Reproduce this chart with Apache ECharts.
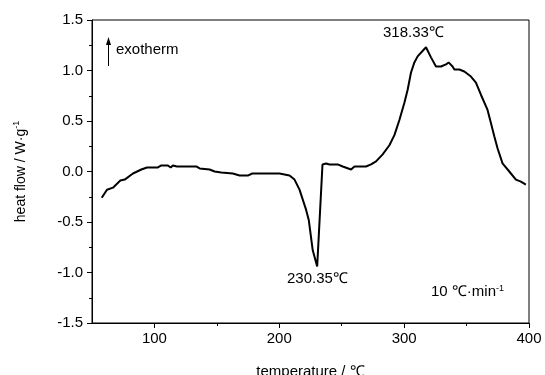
<!DOCTYPE html>
<html>
<head>
<meta charset="utf-8">
<script src="https://cdn.jsdelivr.net/npm/echarts@6/dist/echarts.min.js"></script>
<style>html,body{margin:0;padding:0;background:#fff}#c{width:545px;height:375px}</style>
</head>
<body>
<div id="c"></div>
<script>
const temperature = [57.8,62,66.8,72.7,76.2,82.8,89.5,94,102.8,105.5,110.8,113,114.8,118,133.5,136.2,144.2,148.2,153.5,162.8,168.2,174.8,178.3,179.4,181.5,200.2,208.2,212.2,216.2,221.5,223.6,226.8,230.35,234.6,237.5,240.2,246.8,250.8,257.5,260.2,269.5,273.5,277.5,282.8,288.2,292.2,296.2,300.2,302.8,305.5,308.2,310.8,317.5,321.5,325.5,329.5,333.5,335.6,338.8,340.2,344.2,348.2,353.5,357.5,361.5,366.8,369.5,372.2,374.8,378.8,384.2,389.5,393.5,397.5];
const heatFlow = [-0.26,-0.18,-0.16,-0.09,-0.08,-0.02,0.02,0.04,0.04,0.06,0.06,0.04,0.06,0.05,0.05,0.03,0.02,0.0,-0.01,-0.02,-0.04,-0.04,-0.02,-0.03,-0.02,-0.02,-0.04,-0.08,-0.18,-0.38,-0.48,-0.78,-0.94,0.07,0.08,0.07,0.07,0.05,0.02,0.05,0.05,0.07,0.10,0.17,0.26,0.36,0.51,0.68,0.81,0.98,1.08,1.14,1.23,1.13,1.04,1.04,1.06,1.08,1.04,1.01,1.01,0.99,0.94,0.88,0.76,0.61,0.48,0.35,0.23,0.08,0.0,-0.08,-0.10,-0.13];
const xLabels = [100,200,300,400];
const xMinorTicks = [150,250,350];
const font = "'Liberation Sans', Arial, sans-serif";

const chart = echarts.init(document.getElementById('c'), null, {renderer:'canvas'});
const data = temperature.map((t,i)=>[t,heatFlow[i]]);
chart.setOption({
  animation:false,
  backgroundColor:'#fff',
  textStyle:{fontFamily:font,color:'#000'},
  grid:{left:92,right:16,top:20,bottom:52,outerBoundsMode:'none',containLabel:false,show:true,borderColor:'#000',borderWidth:1,backgroundColor:'transparent'},
  xAxis:[{
    type:'value',min:50,max:400,
    name:'temperature / ℃',nameLocation:'middle',nameGap:41,
    nameTextStyle:{fontSize:15,color:'#000',fontFamily:font},
    axisLine:{show:true,onZero:false,lineStyle:{color:'#000',width:1}},
    axisTick:{show:true,length:5,inside:false,lineStyle:{color:'#000'},customValues:xLabels},
    axisLabel:{customValues:xLabels,fontSize:15,color:'#000',margin:8,fontFamily:font},
    splitLine:{show:false}
  },{
    type:'value',min:50,max:400,position:'bottom',gridIndex:0,
    axisLine:{show:false,onZero:false},
    axisTick:{show:true,length:3,lineStyle:{color:'#000'},customValues:xMinorTicks},
    axisLabel:{show:false},
    splitLine:{show:false}
  }],
  yAxis:{
    type:'value',min:-1.5,max:1.5,interval:0.5,
    name:'heat flow / W·g{sup|-1}',nameLocation:'middle',nameGap:62,nameRotate:90,
    nameTextStyle:{fontSize:14,color:'#000',fontFamily:font,rich:{sup:{fontSize:9,verticalAlign:'top',lineHeight:18,color:'#000'}}},
    axisLine:{show:true,onZero:false,lineStyle:{color:'#000',width:1}},
    axisTick:{show:true,length:5,lineStyle:{color:'#000'}},
    minorTick:{show:true,splitNumber:2,length:3,lineStyle:{color:'#000'}},
    axisLabel:{fontSize:15,color:'#000',margin:9,fontFamily:font,formatter:v=>v.toFixed(1)},
    splitLine:{show:false}
  },
  series:[{
    type:'line',data:data,xAxisIndex:0,showSymbol:false,smooth:false,
    lineStyle:{color:'#000',width:2},
    silent:true
  }],
  graphic:[
    {type:'line',shape:{x1:108.5,y1:66,x2:108.5,y2:42},style:{stroke:'#000',lineWidth:1}},
    {type:'polygon',shape:{points:[[108.5,37],[106,45],[111,45]]},style:{fill:'#000'}},
    {type:'text',left:116,top:42,style:{text:'exotherm',fontSize:15,fontFamily:font,fill:'#000'}},
    {type:'text',left:383,top:25,style:{text:'318.33℃',fontSize:15,fontFamily:font,fill:'#000'}},
    {type:'text',left:287,top:271,style:{text:'230.35℃',fontSize:15,fontFamily:font,fill:'#000'}},
    {type:'text',left:431,top:284,style:{text:'10 ℃·min{sup|-1}',fontSize:15,fontFamily:font,fill:'#000',
      rich:{sup:{fontSize:9,verticalAlign:'top',lineHeight:16,fill:'#000'}}}}
  ]
});
</script>
</body>
</html>
